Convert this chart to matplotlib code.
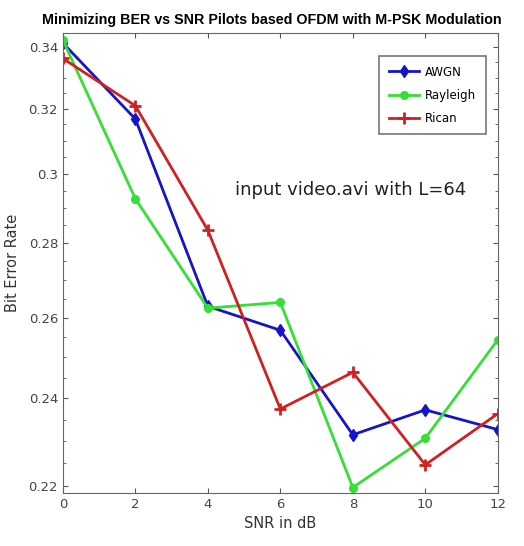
import matplotlib.pyplot as plt
from matplotlib.ticker import FixedLocator, NullFormatter, FixedFormatter

snr = [0, 2, 4, 6, 8, 10, 12]
ber_awgn = [0.3415, 0.3167, 0.2630, 0.2568, 0.2315, 0.2373, 0.2327]
ber_rayleigh = [0.3425, 0.2926, 0.2625, 0.2640, 0.2197, 0.2307, 0.2544]
ber_rician = [0.3363, 0.3209, 0.2836, 0.2375, 0.2463, 0.2247, 0.2364]

yticks = [0.22, 0.24, 0.26, 0.28, 0.3, 0.32, 0.34]
ylabels = ['0.22', '0.24', '0.26', '0.28', '0.3', '0.32', '0.34']
xticks = [0, 2, 4, 6, 8, 10, 12]

fig = plt.figure(figsize=(5.24, 5.46), dpi=100)
ax = fig.add_axes([0.120, 0.097, 0.830, 0.843])

ax.semilogy(snr, ber_awgn, color='#1515c8', lw=2, marker='d', ms=6, label='AWGN')
ax.semilogy(snr, ber_rayleigh, color='#33e033', lw=2, marker='o', ms=5.5, label='Rayleigh')
ax.semilogy(snr, ber_rician, color='#d02020', lw=2, marker='+', ms=8, mew=2, label='Rican')

ax.set_xlim(0, 12)
ax.set_ylim(0.2185, 0.345)
ax.set_xticks(xticks)
ax.yaxis.set_major_locator(FixedLocator(yticks))
ax.yaxis.set_major_formatter(FixedFormatter(ylabels))
minor = [0.22 + 0.005 * i for i in range(25)]
ax.yaxis.set_minor_locator(FixedLocator(minor))
ax.yaxis.set_minor_formatter(NullFormatter())
ax.tick_params(which='both', direction='in', top=True, right=True, colors='#555555',
               labelsize=9.5, labelcolor='#444444')
ax.tick_params(which='minor', length=2)
for s in ax.spines.values():
    s.set_color('#666666')

ax.set_xlabel('SNR in dB', fontsize=10.5, color='#333333', labelpad=4)
ax.set_ylabel('Bit Error Rate', fontsize=10.5, color='#333333', labelpad=6)
ax.set_title('Minimizing BER vs SNR Pilots based OFDM with M-PSK Modulation',
             fontsize=10.3, fontweight='bold', family='Liberation Sans', pad=6, x=0.48)

ax.text(0.395, 0.648, 'input video.avi with L=64', transform=ax.transAxes,
        fontsize=13, color='#222222')

leg = ax.legend(loc='upper right', bbox_to_anchor=(0.986, 0.962), fontsize=8.5,
                fancybox=False, edgecolor='#555555', handlelength=2.6,
                borderpad=0.8, labelspacing=0.85, handletextpad=0.5)
leg.get_frame().set_linewidth(1.2)

fig.savefig('out.png', dpi=100)
